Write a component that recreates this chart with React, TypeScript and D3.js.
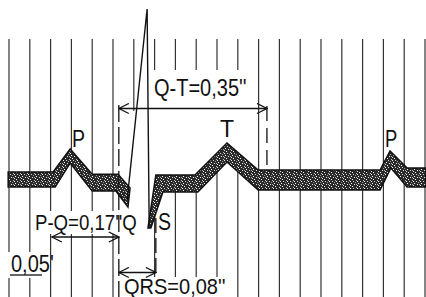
import * as d3 from "d3";

const width = 426;
const height = 297;

// ECG strip: time in seconds (grid every 0,05''), amplitude in mV
// outlines of the thick trace, [seconds, mV]
const pqTop: [number, number][] = [[-0.002, 0.056], [0.106, 0.056], [0.147, 0.218], [0.2, 0.04], [0.262, 0.04], [0.291, -0.056]];
const qTip: [number, number] = [0.286, -0.189];
const pqBottom: [number, number][] = [[0.257, -0.077], [0.2, -0.077], [0.147, 0.119], [0.111, -0.049], [-0.002, -0.049]];

const stTop: [number, number][] = [[0.334, -0.337], [0.353, 0.035], [0.447, 0.035], [0.524, 0.26], [0.599, 0.07], [0.892, 0.07], [0.916, 0.204], [0.957, 0.084], [1.002, 0.084]];
const stBottom: [number, number][] = [[1.002, -0.049], [0.957, -0.049], [0.918, 0.084], [0.892, -0.07], [0.599, -0.07], [0.524, 0.126], [0.454, -0.084], [0.37, -0.084], [0.341, -0.337]];

const rSpike: [number, number][] = [[0.284, -0.14], [0.332, 1.2], [0.337, -0.323]];

// interval markers (seconds)
const pOnset = 0.103;
const qOnset = 0.264;
const sEnd = 0.353;
const tEnd = 0.62;

const waveLabels = ["P", "T", "P", "S"];
const intervalLabels = ["P-Q=0,17''Q", "QRS=0,08''", "Q-T=0,35''", "0,05'"];

// speckle of the trace fill
const grainDots: [number, number, string][] = [
  [1, 1, "#fff"], [4, 2, "#ddd"], [2, 4, "#fff"], [6, 5, "#bbb"], [0, 6, "#eee"], [5, 0, "#999"], [3, 6, "#ccc"],
  [6, 2, "#aaa"], [0, 3, "#ddd"],
];

export default function App() {
  const x = d3.scaleLinear().domain([0, 1]).range([9, 425]);
  const y = d3.scaleLinear().domain([0, 1.2]).range([180, 9]);
  const line = d3.line<[number, number]>().x(d => x(d[0])).y(d => y(d[1]));

  const gridTimes = x.ticks(20);
  const font = "'Liberation Sans', Arial, sans-serif";
  const ink = "#111";

  // narrow lettering: squeeze horizontally
  const txt = (s: string, px: number, py: number, sx: number, key: string, size = 23) => (
    <text key={key} transform={`translate(${px},${py}) scale(${sx},1)`} fontSize={size}
          fontFamily={font} fill={ink}>{s}</text>
  );

  return (
    <svg width={width} height={height} style={{position: "absolute", left: 0, top: 0, background: "#fff"}}>
      <defs>
        <pattern id="grain" width={7} height={7} patternUnits="userSpaceOnUse">
          <rect width={7} height={7} fill="#2b2b2b"/>
          {grainDots.map(([gx, gy, c], i) => <rect key={i} x={gx} y={gy} width={1} height={1} fill={c}/>)}
        </pattern>
        <marker id="head" viewBox="-11 -6 12 12" markerWidth={12} markerHeight={12} refX={0} refY={0}
                markerUnits="userSpaceOnUse" orient="auto-start-reverse">
          <path d="M-10,-5L0,0L-10,5" fill="none" stroke={ink} strokeWidth={1.3}/>
        </marker>
      </defs>

      {/* time grid */}
      <g stroke="#333" strokeWidth={1.2}>
        {gridTimes.map(t => <line key={t} x1={x(t)} x2={x(t)} y1={39} y2={height}/>)}
      </g>

      {/* blank areas behind the labels */}
      <g fill="#fff">
        <path d="M150,70L252,70L252,184L227,162L198,192L150,192Z"/>
        <rect x={125} y={111} width={18} height={186}/>
        <rect x={33} y={211} width={110} height={23}/>
        <rect x={7} y={252} width={42} height={26}/>
        <rect x={120} y={277} width={110} height={20}/>
      </g>

      {/* trace */}
      <g fill="url(#grain)" stroke={ink} strokeWidth={1.5} strokeLinejoin="miter">
        <path d={line([...pqTop, qTip, ...pqBottom]) + "Z"}/>
        <path d={line([...stTop, ...stBottom]) + "Z"}/>
      </g>
      <path d={line(rSpike) ?? ""} fill="none" stroke={ink} strokeWidth={1.4}/>

      {/* dashed markers */}
      <g stroke={ink} strokeWidth={1.3}>
        <line x1={x(qOnset)} x2={x(qOnset)} y1={105} y2={height} strokeDasharray="17 5"/>
        <line x1={x(sEnd)} x2={x(sEnd)} y1={218} y2={275} strokeDasharray="15 5"/>
        <line x1={x(tEnd)} x2={x(tEnd)} y1={106} y2={170} strokeDasharray="15 7"/>
      </g>

      {/* interval arrows */}
      <g stroke={ink} strokeWidth={1.3} markerStart="url(#head)" markerEnd="url(#head)">
        <line x1={x(qOnset)} x2={x(tEnd)} y1={108.5} y2={108.5}/>
        <line x1={x(pOnset)} x2={x(qOnset)} y1={237} y2={237}/>
        <line x1={x(qOnset)} x2={x(sEnd)} y1={272.5} y2={272.5}/>
      </g>
      <line x1={10} x2={42} y1={275} y2={275} stroke={ink} strokeWidth={1.3}/>

      {txt(waveLabels[0], 72, 146.5, 0.85, "p1")}
      {txt(waveLabels[1], 220, 137, 1, "t")}
      {txt(waveLabels[2], 385, 146.5, 0.8, "p2")}
      {txt(waveLabels[3], 158, 230, 0.85, "s")}
      {txt(intervalLabels[0], 35, 230, 0.81, "pq")}
      {txt(intervalLabels[1], 124, 293.5, 0.91, "qrs", 22)}
      {txt(intervalLabels[2], 154, 96, 0.87, "qt")}
      {txt(intervalLabels[3], 11, 271.5, 0.87, "scale")}
    </svg>
  );
}
